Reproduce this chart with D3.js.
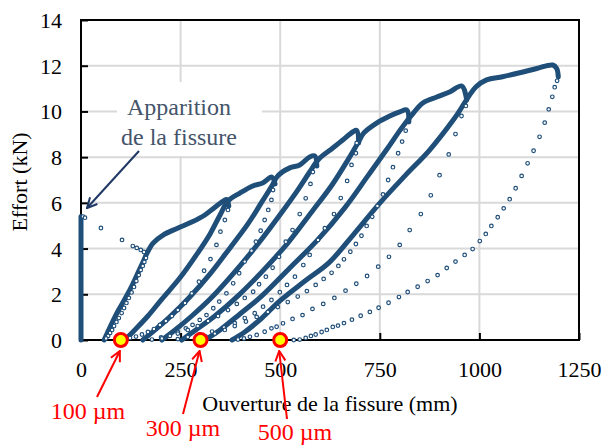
<!DOCTYPE html>
<html>
<head>
<meta charset="utf-8">
<script src="https://cdn.jsdelivr.net/npm/d3@7"></script>
<style>
  body { margin: 0; background: #fff; }
  svg { display: block; }
  text { font-family: "Liberation Serif", "Times New Roman", serif; }
</style>
</head>
<body>
<div id="chart"></div>
<script>
// axis ticks
const xTicks = [0, 250, 500, 750, 1000, 1250];
const yTicks = [0, 2, 4, 6, 8, 10, 12, 14];

// dense parts (loading / reloading), [opening, force]
const initLoad = [[0, 0], [0, 5.4]];
const reload1 = [[58,0],[73,0.57],[93,1.27],[113,1.88],[130,2.45],[145,3.02],[158,3.5],[166,3.81],[181,4.24],[206,4.59],[241,4.88],[278,5.16],[311,5.47],[334,5.78],[354,6.04],[365,6.15],[371,5.86]];
const reload2 = [[110,0],[135,0.44],[168,1.05],[203,1.79],[248,2.71],[288,3.68],[324,4.64],[349,5.47],[369,6.08],[399,6.43],[431,6.74],[456,6.87],[479,7.13],[487,6.83]];
const reload3 = [[155,0],[186,0.44],[223,1.01],[273,1.88],[324,2.89],[374,4.03],[419,5.08],[454,6.04],[479,6.74],[494,7.18],[524,7.53],[549,7.66],[574,8.01],[587,8.05],[592,7.61]];
const reload4 = [[203,0],[236,0.44],[278,1.05],[329,1.88],[386,2.98],[444,4.2],[499,5.47],[544,6.56],[574,7.35],[597,7.92],[632,8.4],[657,8.75],[682,9.1],[692,9.17],[697,8.62]];
const reload5 = [[253,0],[288,0.44],[336,1.05],[394,1.93],[454,2.98],[519,4.24],[579,5.6],[630,6.78],[670,7.88],[695,8.62],[710,9.06],[742,9.49],[775,9.8],[800,9.98],[818,10.06],[823,9.54]];
const reload6 = [[311,0],[349,0.44],[399,1.14],[454,1.93],[524,3.15],[594,4.38],[662,5.78],[720,7.18],[770,8.4],[805,9.28],[830,9.84],[858,10.37],[893,10.63],[925,10.85],[956,11.11],[968,10.5]];
const reload7 = [[379,0],[411,0.35],[454,0.96],[499,1.71],[562,2.58],[624,3.41],[687,4.68],[750,5.99],[813,7.18],[875,8.31],[938,9.71],[991,11.07],[1018,11.38],[1058,11.52],[1101,11.69],[1144,11.88],[1184,12.03],[1194,11.88],[1198,11.51]];

// sparse parts (drop after cracking and unloadings)
const crackDrop = [[5,5.4],[10,5.35],[50,4.9],[103,4.38],[130,4.11],[140,4.03],[150,3.94],[158,3.85]];
const unload0 = [[163,3.59],[159,3.41],[155,3.24],[150,3.06],[145,2.84],[139,2.58],[133,2.32],[127,2.08],[120,1.84],[114,1.62],[108,1.4],[102,1.18],[95,0.96],[89,0.79],[83,0.61],[78,0.44],[73,0.31],[68,0.18],[63,0.07]];
const unload1 = [[369,5.69],[361,5.25],[350,4.74],[340,4.16],[325,3.54],[309,3.03],[296,2.55],[278,2.04],[261,1.62],[243,1.31],[228,1.05],[213,0.83],[198,0.66],[183,0.48],[168,0.35],[153,0.24],[138,0.15],[123,0.09],[108,0.02]];
const unload2 = [[482,6.56],[478,6.13],[470,5.69],[461,5.25],[451,4.78],[439,4.3],[428,3.91],[411,3.43],[397,2.92],[382,2.48],[365,2.04],[347,1.68],[332,1.39],[315,1.09],[298,0.88],[280,0.66],[263,0.51],[243,0.35],[223,0.22],[201,0.11],[178,0.02]];
const unload3 = [[582,7.35],[576,6.83],[564,6.2],[549,5.51],[531,4.81],[514,4.3],[497,3.64],[481,3.16],[464,2.77],[447,2.44],[432,2.11],[411,1.84],[391,1.58],[369,1.31],[344,1.05],[319,0.83],[293,0.61],[268,0.44],[243,0.28],[223,0.18],[203,0.07]];
const unload4 = [[692,8.62],[690,8.17],[679,7.66],[668,6.96],[652,6.21],[635,5.51],[612,4.89],[595,4.38],[574,3.72],[558,3.28],[537,2.77],[517,2.41],[499,2.09],[478,1.75],[457,1.46],[436,1.17],[411,0.96],[386,0.74],[359,0.55],[329,0.37],[298,0.24],[268,0.13],[243,0.04]];
const unload5 = [[815,9.16],[806,8.68],[796,8.17],[783,7.56],[771,7.0],[758,6.37],[744,5.86],[731,5.39],[717,4.99],[704,4.56],[690,4.2],[676,3.86],[660,3.53],[646,3.24],[629,2.94],[609,2.67],[589,2.41],[567,2.14],[544,1.9],[519,1.66],[494,1.44],[469,1.23],[441,1.01],[414,0.81],[386,0.61],[361,0.44],[336,0.28],[313,0.15],[293,0.04]];
const unload6 = [[966,10.24],[955,9.8],[940,9.01],[923,8.12],[900,7.21],[878,6.33],[853,5.51],[825,4.81],[800,4.16],[773,3.64],[746,3.21],[718,2.8],[691,2.46],[664,2.16],[636,1.84],[608,1.58],[581,1.36],[556,1.09],[531,0.92],[507,0.73],[491,0.58],[478,0.51],[461,0.36],[441,0.22],[424,0.14],[409,0.07],[394,0.02]];
const unload7 = [[1195,11.34],[1189,11.06],[1183,10.64],[1174,10.09],[1164,9.51],[1151,8.89],[1136,8.28],[1121,7.73],[1106,7.18],[1091,6.64],[1076,6.16],[1061,5.76],[1046,5.37],[1030,4.99],[1016,4.64],[1001,4.33],[983,3.98],[963,3.72],[940,3.43],[918,3.15],[895,2.84],[870,2.58],[845,2.33],[820,2.1],[798,1.88],[772,1.63],[747,1.41],[725,1.23],[702,1.06],[680,0.89],[660,0.74],[645,0.63],[632,0.57],[617,0.44],[604,0.35],[589,0.24],[577,0.18],[564,0.09],[549,0.02],[534,0]];

// residual openings marked on the axis
const marks = [100, 300, 500];
const markLabels = ["100 µm", "300 µm", "500 µm"];

const W = 608, H = 445;
const blue = "#1f4e79";
const serif = '"Liberation Serif", "Times New Roman", serif';

const svg = d3.select("#chart").append("svg")
    .attr("width", W)
    .attr("height", H);

const x = d3.scaleLinear().domain([0, 1250]).range([81, 579]);
const y = d3.scaleLinear().domain([0, 14]).range([340, 20]);

// grid
svg.append("g").selectAll("line.hgrid")
    .data(yTicks.slice(1, -1))
    .join("line")
    .attr("x1", x(0)).attr("x2", x(1250))
    .attr("y1", d => y(d)).attr("y2", d => y(d))
    .attr("stroke", "#d9d9d9").attr("stroke-width", 2);
svg.append("g").selectAll("line.vgrid")
    .data(xTicks.slice(1, -1))
    .join("line")
    .attr("x1", d => x(d)).attr("x2", d => x(d))
    .attr("y1", y(0)).attr("y2", y(14))
    .attr("stroke", "#d9d9d9").attr("stroke-width", 2);

// white box behind the annotation
svg.append("rect")
    .attr("x", 117).attr("y", 82)
    .attr("width", 145).attr("height", 74)
    .attr("fill", "#fff");

// axes, ticks inside
const xAxis = d3.axisBottom(x).tickValues(xTicks).tickFormat(d3.format("d"))
    .tickSizeInner(-7).tickSizeOuter(0).tickPadding(21);
const yAxis = d3.axisLeft(y).tickValues(yTicks).tickFormat(d3.format("d"))
    .tickSizeInner(-7).tickSizeOuter(0).tickPadding(19);

const gx = svg.append("g").attr("transform", `translate(0,${y(0)})`).call(xAxis);
const gy = svg.append("g").attr("transform", `translate(${x(0)},0)`).call(yAxis);
[gx, gy].forEach(g => {
    g.attr("font-family", serif);
    g.select(".domain").remove();
    g.selectAll("line").attr("stroke", "#000").attr("stroke-width", 2);
    g.selectAll("text")
        .attr("fill", "#000")
        .style("font-size", "22px")
        .style("font-family", serif);
});
gy.selectAll("text").attr("dy", "0.34em");

// frame
svg.append("rect")
    .attr("x", x(0)).attr("y", y(14))
    .attr("width", x(1250) - x(0)).attr("height", y(0) - y(14))
    .attr("fill", "none").attr("stroke", "#000").attr("stroke-width", 2);

// data
const line = d3.line()
    .x(d => x(d[0]))
    .y(d => y(d[1]))
    .curve(d3.curveCatmullRom);

const dense = [initLoad, reload1, reload2, reload3, reload4, reload5, reload6, reload7];
const sparse = [crackDrop, unload0, unload1, unload2, unload3, unload4, unload5, unload6, unload7];

svg.append("g").selectAll("path")
    .data(dense)
    .join("path")
    .attr("d", line)
    .attr("fill", "none")
    .attr("stroke", blue)
    .attr("stroke-width", 5)
    .attr("stroke-linecap", "round")
    .attr("stroke-linejoin", "round");

svg.append("g").selectAll("g")
    .data(sparse)
    .join("g")
    .selectAll("circle")
    .data(d => d)
    .join("circle")
    .attr("cx", d => x(d[0]))
    .attr("cy", d => y(d[1]))
    .attr("r", 1.8)
    .attr("fill", "#fff")
    .attr("stroke", blue)
    .attr("stroke-width", 1.2);

// axis titles
svg.append("text")
    .attr("x", 330).attr("y", 411)
    .attr("text-anchor", "middle")
    .style("font-size", "22px")
    .style("font-family", serif)
    .text("Ouverture de la fissure (mm)");

svg.append("text")
    .attr("transform", "translate(27,182) rotate(-90)")
    .attr("text-anchor", "middle")
    .style("font-size", "22px")
    .style("font-family", serif)
    .text("Effort (kN)");

// arrow heads
const defs = svg.append("defs");
function head(id, color) {
    defs.append("marker")
        .attr("id", id)
        .attr("viewBox", "0 0 12 12")
        .attr("refX", 11).attr("refY", 6)
        .attr("markerWidth", 12).attr("markerHeight", 12)
        .attr("markerUnits", "userSpaceOnUse")
        .attr("orient", "auto")
        .append("path")
        .attr("d", "M1,1 L11,6 L1,11")
        .attr("fill", "none")
        .attr("stroke", color)
        .attr("stroke-width", 2);
}
head("navy", "#1f3864");
head("red", "#ff0000");

// "Apparition de la fissure"
svg.append("text")
    .attr("x", 179).attr("y", 115)
    .attr("text-anchor", "middle")
    .attr("fill", "#44546a")
    .style("font-size", "24px")
    .style("font-family", serif)
    .text("Apparition");
svg.append("text")
    .attr("x", 179).attr("y", 145)
    .attr("text-anchor", "middle")
    .attr("fill", "#44546a")
    .style("font-size", "24px")
    .style("font-family", serif)
    .text("de la fissure");
svg.append("line")
    .attr("x1", 139).attr("y1", 151)
    .attr("x2", 87).attr("y2", 208)
    .attr("stroke", "#1f3864").attr("stroke-width", 2)
    .attr("marker-end", "url(#navy)");

// residual markers
const labelPos = [[88, 419, 97, 397], [183, 436, 183, 414], [295, 440, 287, 419]];
svg.append("g").selectAll("line")
    .data(marks)
    .join("line")
    .attr("x1", (d, i) => labelPos[i][2])
    .attr("y1", (d, i) => labelPos[i][3])
    .attr("x2", d => x(d) - 1)
    .attr("y2", y(0) + 11)
    .attr("stroke", "#ff0000").attr("stroke-width", 2)
    .attr("marker-end", "url(#red)");

svg.append("g").selectAll("circle")
    .data(marks)
    .join("circle")
    .attr("cx", d => x(d))
    .attr("cy", y(0))
    .attr("r", 6.5)
    .attr("fill", "#ffff00")
    .attr("stroke", "#ff0000")
    .attr("stroke-width", 3);

svg.append("g").selectAll("text")
    .data(markLabels)
    .join("text")
    .attr("x", (d, i) => labelPos[i][0])
    .attr("y", (d, i) => labelPos[i][1])
    .attr("text-anchor", "middle")
    .attr("fill", "#ff0000")
    .style("font-size", "24px")
    .style("font-family", serif)
    .text(d => d);
</script>
</body>
</html>
